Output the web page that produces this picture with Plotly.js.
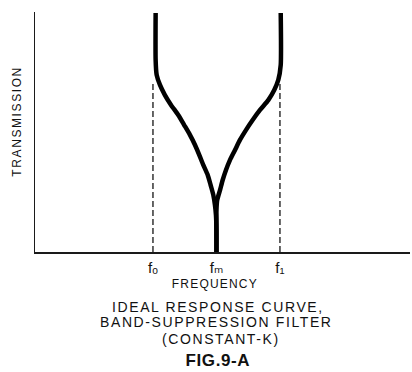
<!DOCTYPE html>
<html>
<head>
<meta charset="utf-8">
<script src="https://cdn.plot.ly/plotly-3.0.1.min.js"></script>
<style>
  html, body { margin: 0; padding: 0; background: #fff; }
  #chart { width: 412px; height: 372px; }
  text { letter-spacing: 1.6px; }
  g.annotation[data-index="1"] text { letter-spacing: 1.2px; }
  g.annotation[data-index="5"] text { letter-spacing: 0.6px; }
  .xtick text, text.xtick { letter-spacing: 0px; }
</style>
</head>
<body>
<div id="chart"></div>
<script>
// Frequency positions (normalized: fo = 1, fm = 1.5, f1 = 2)
var tickVals = [1, 1.5, 2];
var tickText = ['f\u2092', 'f\u2098', 'f\u2081'];

// Left branch of ideal response (frequency, relative transmission)
var leftFreq = [1.021, 1.021, 1.029, 1.055, 1.094, 1.142, 1.199, 1.246, 1.291, 1.331, 1.365, 1.396, 1.431, 1.454, 1.475, 1.488, 1.496, 1.500, 1.500];
var leftTrans = [0.996, 0.800, 0.738, 0.696, 0.654, 0.613, 0.571, 0.529, 0.488, 0.446, 0.404, 0.363, 0.321, 0.279, 0.238, 0.196, 0.154, 0.092, 0.0];

// Right branch
var rightFreq = [2.006, 2.006, 1.987, 1.955, 1.908, 1.843, 1.785, 1.732, 1.685, 1.646, 1.606, 1.575, 1.549, 1.528, 1.506, 1.500, 1.500];
var rightTrans = [0.996, 0.779, 0.717, 0.675, 0.633, 0.592, 0.550, 0.508, 0.467, 0.425, 0.383, 0.342, 0.300, 0.258, 0.217, 0.175, 0.0];

// Dashed cutoff markers
var cutoffFreq = [1, 2];
var cutoffTop = 0.71;

var yTitle = 'TRANSMISSION';
var xTitle = 'FREQUENCY';
var captionLines = ['IDEAL RESPONSE CURVE,', 'BAND-SUPPRESSION FILTER', '(CONSTANT-K)'];
var figLabel = 'FIG.9-A';

var traces = [];
cutoffFreq.forEach(function (f) {
  traces.push({
    x: [f, f], y: [0, cutoffTop], mode: 'lines',
    line: { color: '#000', width: 1.2, dash: '6px,3px' },
    hoverinfo: 'skip', showlegend: false
  });
});
traces.push({
  x: leftFreq, y: leftTrans, mode: 'lines',
  line: { color: '#000', width: 4.5, shape: 'spline', smoothing: 0.6 },
  showlegend: false
});
traces.push({
  x: rightFreq, y: rightTrans, mode: 'lines',
  line: { color: '#000', width: 4.5, shape: 'spline', smoothing: 0.6 },
  showlegend: false
});

var font = 'Liberation Sans, Arial, DejaVu Sans, sans-serif';
var layout = {
  width: 412, height: 372,
  margin: { l: 35, r: 2, t: 12, b: 120, pad: 0 },
  paper_bgcolor: '#fff', plot_bgcolor: '#fff',
  showlegend: false,
  font: { family: font, color: '#111' },
  xaxis: {
    range: [0.071, 3.024], showgrid: false, zeroline: false,
    showline: true, linecolor: '#1a1a1a', linewidth: 1.5,
    ticks: '', tickvals: tickVals, ticktext: tickText,
    tickfont: { family: font, size: 15, color: '#111' },
    ticklabelstandoff: 1, fixedrange: true
  },
  yaxis: {
    range: [0, 1], showgrid: false, zeroline: false,
    showline: true, linecolor: '#1a1a1a', linewidth: 1.5,
    ticks: '', showticklabels: false, fixedrange: true
  },
  annotations: [
    { text: yTitle, xref: 'paper', yref: 'paper', x: -0.0488, y: 0.546,
      xanchor: 'center', yanchor: 'middle', textangle: -90, showarrow: false,
      font: { family: font, size: 12, color: '#111' } },
    { text: xTitle, xref: 'paper', yref: 'paper', x: 0.48, y: -0.135,
      xanchor: 'center', yanchor: 'middle', showarrow: false,
      font: { family: font, size: 12, color: '#111' } },
    { text: captionLines[0], xref: 'paper', yref: 'paper', x: 0.4867, y: -0.228,
      xanchor: 'center', yanchor: 'middle', showarrow: false,
      font: { family: font, size: 14, color: '#111' } },
    { text: captionLines[1], xref: 'paper', yref: 'paper', x: 0.4827, y: -0.290,
      xanchor: 'center', yanchor: 'middle', showarrow: false,
      font: { family: font, size: 14, color: '#111' } },
    { text: captionLines[2], xref: 'paper', yref: 'paper', x: 0.496, y: -0.3625,
      xanchor: 'center', yanchor: 'middle', showarrow: false,
      font: { family: font, size: 14, color: '#111' } },
    { text: figLabel, xref: 'paper', yref: 'paper', x: 0.489, y: -0.45,
      xanchor: 'center', yanchor: 'middle', showarrow: false,
      font: { family: font, size: 17, color: '#111', weight: 'bold' } }
  ]
};

Plotly.newPlot('chart', traces, layout, { staticPlot: true, displayModeBar: false });
</script>
</body>
</html>
